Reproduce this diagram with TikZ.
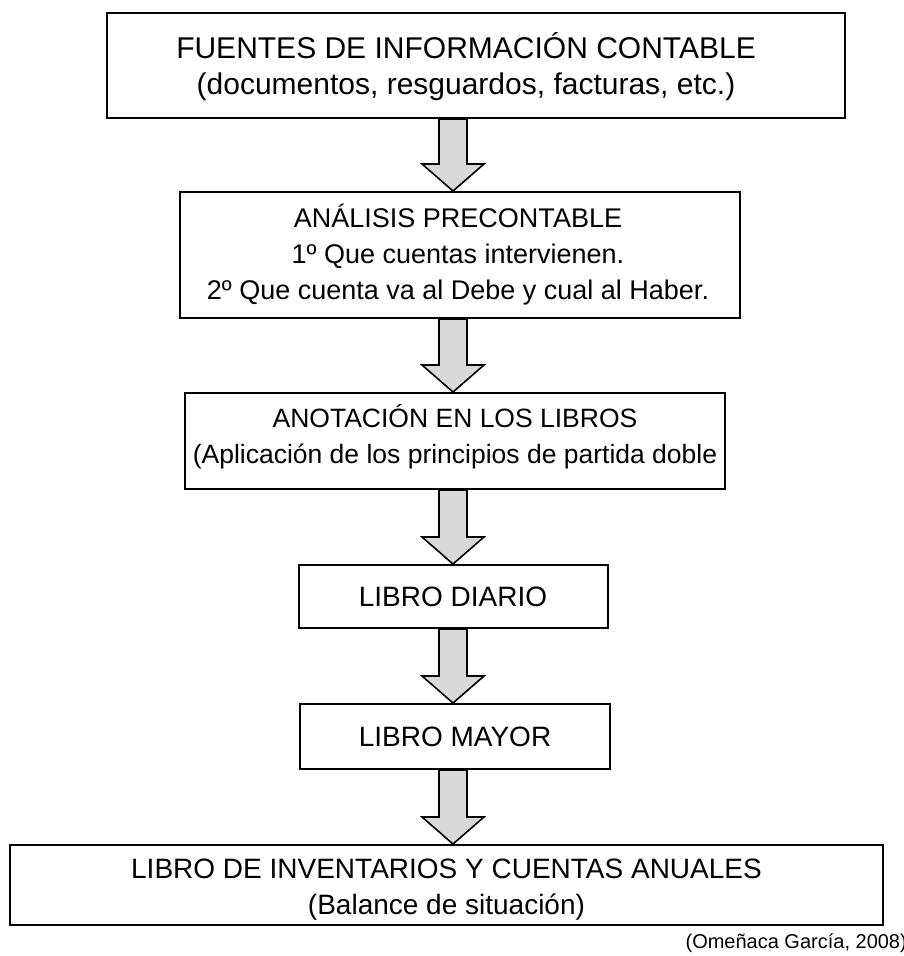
\documentclass[tikz,border=0pt]{standalone}
\usepackage{fontspec}
\setmainfont{Liberation Sans}
\usetikzlibrary{calc}
\tikzset{
  box/.style={draw=black, line width=2pt, fill=white, inner sep=0pt},
  boxtext/.style={align=center, inner sep=0pt, font=\fontsize{27}{36}\selectfont},
  barrowstyle/.style={draw=black, line width=1.6pt, fill=black!15, line join=miter},
  cite/.style={anchor=east, inner sep=0pt, font=\fontsize{20}{24}\selectfont}
}
\newcommand\barrow[3]{%
  \draw[barrowstyle] let \p1=(#1.south), \p2=(#2.north) in
    ({#3pt-14pt},\y1) -- ({#3pt+14pt},\y1) -- ({#3pt+14pt},\y2+27pt) --
    ({#3pt+31pt},\y2+27pt) -- ({#3pt},\y2) -- ({#3pt-31pt},\y2+27pt) --
    ({#3pt-14pt},\y2+27pt) -- cycle;}
\begin{document}
\begin{tikzpicture}[x=1pt,y=-1pt]
\useasboundingbox (0,0) rectangle (904,956);
\node[box, minimum width=738pt, minimum height=105pt] (b1) at (476,65.5) {};
\node[boxtext, font=\fontsize{30}{36}\selectfont] (t1) at (466,67)
  {FUENTES DE INFORMACIÓN CONTABLE\\(documentos, resguardos, facturas, etc.)};
\node[box, minimum width=560pt, minimum height=126pt] (b2) at (460,255) {};
\node[boxtext] (t2) at (458,255)
  {ANÁLISIS PRECONTABLE\\1º Que cuentas intervienen.\\2º Que cuenta va al Debe y cual al Haber.};
\node[box, minimum width=540pt, minimum height=96pt] (b3) at (455,441) {};
\node[boxtext, font=\fontsize{26.5}{36}\selectfont] (t3) at (455,437)
  {ANOTACIÓN EN LOS LIBROS\\(Aplicación de los principios de partida doble};
\node[box, minimum width=309pt, minimum height=63pt] (b4) at (453,596.5) {};
\node[boxtext, font=\fontsize{28}{36}\selectfont] (t4) at (453,597) {LIBRO DIARIO};
\node[box, minimum width=310pt, minimum height=65pt] (b5) at (455,736.5) {};
\node[boxtext, font=\fontsize{28}{36}\selectfont] (t5) at (455,737) {LIBRO MAYOR};
\node[box, minimum width=873pt, minimum height=80pt] (b6) at (446.5,885) {};
\node[boxtext, font=\fontsize{28}{36}\selectfont] (t6) at (446.5,890)
  {LIBRO DE INVENTARIOS Y CUENTAS ANUALES\\(Balance de situación)};
\node[cite] (c) at (907,943) {(Omeñaca García, 2008)};
\barrow{b1}{b2}{453}
\barrow{b2}{b3}{453}
\barrow{b3}{b4}{453}
\barrow{b4}{b5}{453}
\barrow{b5}{b6}{453}
\end{tikzpicture}
\end{document}
